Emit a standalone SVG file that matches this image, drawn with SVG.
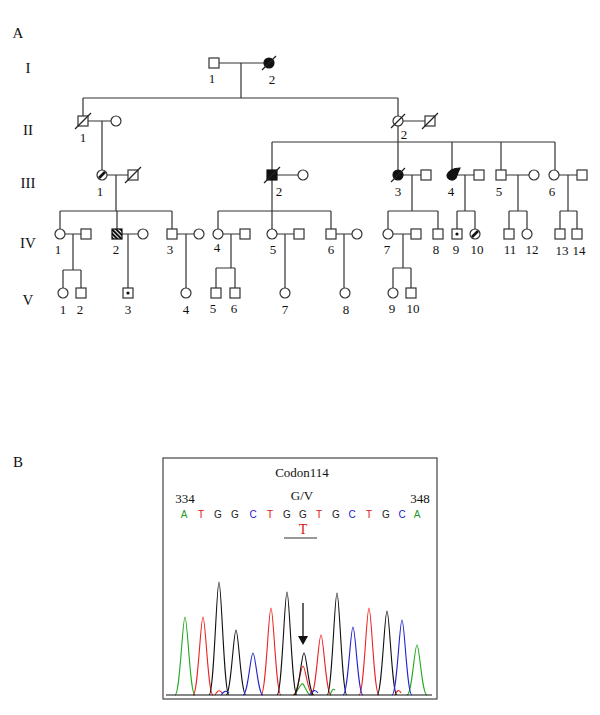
<svg xmlns="http://www.w3.org/2000/svg" width="600" height="715" viewBox="0 0 600 715">
<defs>
<style>
.ln{stroke:#333;stroke-width:1.2;fill:none}
.sym{stroke:#333;stroke-width:1.2;fill:#fff}
.aff{stroke:#111;stroke-width:1.2;fill:#111}
.sl{stroke:#222;stroke-width:1.2}
.hb{stroke:#111;stroke-width:2.6}
.t{font-family:"Liberation Serif","Times New Roman",serif;font-size:13px;fill:#111;text-anchor:middle}
.g{font-family:"Liberation Serif","Times New Roman",serif;font-size:15px;fill:#111;text-anchor:middle}
.s{font-family:"Liberation Sans",Arial,sans-serif;font-size:10px;text-anchor:middle}
.pk{fill:none;stroke-width:1.1}
</style>
<pattern id="hatch" width="3" height="3" patternUnits="userSpaceOnUse" patternTransform="rotate(-45)">
<rect width="3" height="3" fill="#fff"/><rect width="2" height="3" fill="#111"/>
</pattern>
</defs>
<rect width="600" height="715" fill="#fff"/>
<text x="18" y="38" class="g">A</text>
<g id="genlabels">
<text x="28" y="73" class="g">I</text>
<text x="28" y="135" class="g">II</text>
<text x="28" y="188" class="g">III</text>
<text x="28" y="248" class="g">IV</text>
<text x="28" y="305" class="g">V</text>
</g>
<g id="connectors">
<path class="ln" d="M219 63H264M241 63V98M83 98H398M83 98V116M398 98V116"/>
<path class="ln" d="M88 121H111M102 121V170M403 121H425M398 126V170M272 142H555M272 142V170M452 142V170M501 142V170M555 142V170"/>
<path class="ln" d="M107 175H128M116 175V211M60 211H172M60 211V229M117 211V229M172 211V229"/>
<path class="ln" d="M277 175H298M272 180V229M218 211H331M218 211V229M331 211V229"/>
<path class="ln" d="M403 175H421M412 175V211M388 211H438M388 211V229M438 211V229"/>
<path class="ln" d="M457 175H474M465 175V211M457 211H475M457 211V229M475 211V229"/>
<path class="ln" d="M506 175H529M518 175V211M509 211H527M509 211V229M527 211V229"/>
<path class="ln" d="M559 175H577M568 175V211M560 211H577M560 211V229M577 211V229"/>
<path class="ln" d="M65 234H81M73 234V270M63 270H81M63 270V288M81 270V288"/>
<path class="ln" d="M122 234H138M128 234V288"/>
<path class="ln" d="M177 234H194M186 234V288"/>
<path class="ln" d="M223 234H240M231 234V268M216 268H235M216 268V288M235 268V288"/>
<path class="ln" d="M277 234H294M285 234V288"/>
<path class="ln" d="M336 234H352M344 234V288"/>
<path class="ln" d="M393 234H411M403 234V268M393 268H411M393 268V288M411 268V288"/>
</g>
<g id="I-1"><rect class="sym" x="209" y="58" width="10" height="10"/><text x="212" y="83" class="t">1</text></g>
<g id="I-2"><circle class="aff" cx="269" cy="63" r="5"/><line class="sl" x1="262" y1="70" x2="276" y2="56"/><text x="272" y="84" class="t">2</text></g>
<g id="II-1"><rect class="sym" x="78" y="116" width="10" height="10"/><line class="sl" x1="75" y1="129" x2="91" y2="113"/><text x="83" y="142" class="t">1</text></g>
<g id="II-1w"><circle class="sym" cx="116" cy="121" r="5"/></g>
<g id="II-2"><circle class="sym" cx="398" cy="121" r="5"/><line class="sl" x1="391" y1="128" x2="405" y2="114"/><text x="404" y="139" class="t">2</text></g>
<g id="II-2h"><rect class="sym" x="425" y="116" width="10" height="10"/><line class="sl" x1="422" y1="129" x2="438" y2="113"/></g>
<g id="III-1"><circle class="sym" cx="102" cy="175" r="5"/><line class="hb" x1="99" y1="178" x2="105" y2="172"/><text x="100" y="196" class="t">1</text></g>
<g id="III-1h"><rect class="sym" x="128" y="170" width="10" height="10"/><line class="sl" x1="125" y1="183" x2="141" y2="167"/></g>
<g id="III-2"><rect class="aff" x="267" y="170" width="10" height="10"/><line class="sl" x1="264" y1="183" x2="280" y2="167"/><text x="279" y="196" class="t">2</text></g>
<g id="III-2w"><circle class="sym" cx="303" cy="175" r="5"/></g>
<g id="III-3"><circle class="aff" cx="398" cy="175" r="5"/><line class="sl" x1="391" y1="182" x2="405" y2="168"/><text x="398" y="196" class="t">3</text></g>
<g id="III-3h"><rect class="sym" x="421" y="170" width="10" height="10"/></g>
<g id="III-4"><path class="aff" d="M447 175A5 5 0 0 0 456 178Q458 172 460 168Q450 168 447 175Z"/><text x="451" y="196" class="t">4</text></g>
<g id="III-4h"><rect class="sym" x="474" y="170" width="10" height="10"/></g>
<g id="III-5"><rect class="sym" x="496" y="170" width="10" height="10"/><text x="499" y="196" class="t">5</text></g>
<g id="III-5w"><circle class="sym" cx="534" cy="175" r="5"/></g>
<g id="III-6"><circle class="sym" cx="554" cy="175" r="5"/><text x="552" y="196" class="t">6</text></g>
<g id="III-6h"><rect class="sym" x="577" y="170" width="10" height="10"/></g>
<g id="IV-1"><circle class="sym" cx="60" cy="234" r="5"/><text x="58" y="254" class="t">1</text></g>
<g id="IV-1h"><rect class="sym" x="81" y="229" width="10" height="10"/></g>
<g id="IV-2"><rect x="112" y="229" width="10" height="10" fill="url(#hatch)" stroke="#111" stroke-width="1.2"/><text x="116" y="254" class="t">2</text></g>
<g id="IV-2w"><circle class="sym" cx="143" cy="234" r="5"/></g>
<g id="IV-3"><rect class="sym" x="167" y="229" width="10" height="10"/><text x="170" y="254" class="t">3</text></g>
<g id="IV-3w"><circle class="sym" cx="199" cy="234" r="5"/></g>
<g id="IV-4"><circle class="sym" cx="218" cy="234" r="5"/><text x="217" y="252" class="t">4</text></g>
<g id="IV-4h"><rect class="sym" x="240" y="229" width="10" height="10"/></g>
<g id="IV-5"><circle class="sym" cx="272" cy="234" r="5"/><text x="273" y="254" class="t">5</text></g>
<g id="IV-5h"><rect class="sym" x="294" y="229" width="10" height="10"/></g>
<g id="IV-6"><rect class="sym" x="326" y="229" width="10" height="10"/><text x="331" y="254" class="t">6</text></g>
<g id="IV-6w"><circle class="sym" cx="357" cy="234" r="5"/></g>
<g id="IV-7"><circle class="sym" cx="388" cy="234" r="5"/><text x="387" y="254" class="t">7</text></g>
<g id="IV-7h"><rect class="sym" x="411" y="229" width="10" height="10"/></g>
<g id="IV-8"><rect class="sym" x="433" y="229" width="10" height="10"/><text x="436" y="254" class="t">8</text></g>
<g id="IV-9"><rect class="sym" x="452" y="229" width="10" height="10"/><circle cx="457" cy="234" r="1.6" fill="#111"/><text x="456" y="254" class="t">9</text></g>
<g id="IV-10"><circle class="sym" cx="475" cy="234" r="5"/><line class="hb" x1="472" y1="237" x2="478" y2="231"/><text x="477" y="254" class="t">10</text></g>
<g id="IV-11"><rect class="sym" x="504" y="229" width="10" height="10"/><text x="510" y="254" class="t">11</text></g>
<g id="IV-12"><circle class="sym" cx="527" cy="234" r="5"/><text x="532" y="254" class="t">12</text></g>
<g id="IV-13"><rect class="sym" x="555" y="229" width="10" height="10"/><text x="562" y="255" class="t">13</text></g>
<g id="IV-14"><rect class="sym" x="572" y="229" width="10" height="10"/><text x="579" y="255" class="t">14</text></g>
<g id="V-1"><circle class="sym" cx="63" cy="293" r="5"/><text x="63" y="314" class="t">1</text></g>
<g id="V-2"><rect class="sym" x="76" y="288" width="10" height="10"/><text x="80" y="314" class="t">2</text></g>
<g id="V-3"><rect class="sym" x="123" y="288" width="10" height="10"/><circle cx="128" cy="293" r="1.6" fill="#111"/><text x="128" y="314" class="t">3</text></g>
<g id="V-4"><circle class="sym" cx="186" cy="293" r="5"/><text x="186" y="314" class="t">4</text></g>
<g id="V-5"><rect class="sym" x="211" y="288" width="10" height="10"/><text x="213" y="313" class="t">5</text></g>
<g id="V-6"><rect class="sym" x="230" y="288" width="10" height="10"/><text x="234" y="313" class="t">6</text></g>
<g id="V-7"><circle class="sym" cx="285" cy="293" r="5"/><text x="285" y="314" class="t">7</text></g>
<g id="V-8"><circle class="sym" cx="345" cy="293" r="5"/><text x="346" y="314" class="t">8</text></g>
<g id="V-9"><circle class="sym" cx="393" cy="293" r="5"/><text x="392" y="313" class="t">9</text></g>
<g id="V-10"><rect class="sym" x="406" y="288" width="10" height="10"/><text x="413" y="313" class="t">10</text></g>
<text x="18" y="467" class="g">B</text>
<g id="chromatogram">
<rect x="163" y="458" width="274" height="241" fill="none" stroke="#444" stroke-width="1.2"/>
<text x="302" y="477" class="t">Codon114</text>
<text x="302" y="500" class="t">G/V</text>
<text x="185" y="503" class="t">334</text>
<text x="420" y="503" class="t">348</text>
<g class="s">
<text x="184" y="518" fill="#1a9a1a">A</text>
<text x="201" y="518" fill="#e01010">T</text>
<text x="218" y="518" fill="#222">G</text>
<text x="235" y="518" fill="#222">G</text>
<text x="253" y="518" fill="#2020d0">C</text>
<text x="270" y="518" fill="#e01010">T</text>
<text x="287" y="518" fill="#222">G</text>
<text x="303" y="518" fill="#222">G</text>
<text x="319" y="518" fill="#e01010">T</text>
<text x="336" y="518" fill="#222">G</text>
<text x="352" y="518" fill="#2020d0">C</text>
<text x="369" y="518" fill="#e01010">T</text>
<text x="386" y="518" fill="#222">G</text>
<text x="402" y="518" fill="#2020d0">C</text>
<text x="417" y="518" fill="#1a9a1a">A</text>
</g>
<text x="303" y="534" style="font-family:'Liberation Serif',serif;font-size:14px;fill:#e01010;text-anchor:middle">T</text>
<line x1="284" y1="538" x2="317" y2="538" stroke="#333" stroke-width="1.2"/>
<path class="pk" stroke="#2a2" d="M175 695C180 695 182.5 617 185 617C187.5 617 190 695 195 695M407 695C412 695 414.5 645 417 645C419.5 645 422 695 427 695M294 695C299 690 301 682 303 684C305 686 306 692 310 695M330 695C332 690 333 688 335 690"/>
<path class="pk" stroke="#e22" d="M193 695C198 695 200.5 617 203 617C205.5 617 208 695 213 695M261 695C266 695 268.5 608 271 608C273.5 608 276 695 281 695M293 695C298 695 300.5 666 303 666C305.5 666 308 695 313 695M311 695C316 695 318.5 635 321 635C323.5 635 326 695 331 695M359 695C364 695 366.5 608 369 608C371.5 608 374 695 379 695M395 695C397 690 399 689 401 693M215 695C218 690 220 689 223 694"/>
<path class="pk" stroke="#111" d="M209 695C214 695 216.5 582 219 582C221.5 582 224 695 229 695M226 695C231 695 233.5 630 236 630C238.5 630 241 695 246 695M277 695C282 695 284.5 592 287 592C289.5 592 292 695 297 695M294 695C299 695 301.5 653 304 653C306.5 653 309 695 314 695M327 695C332 695 334.5 593 337 593C339.5 593 342 695 347 695M377 695C382 695 384.5 611 387 611C389.5 611 392 695 397 695M166 695H432"/>
<path class="pk" stroke="#22c" d="M243 695C248 695 250.5 653 253 653C255.5 653 258 695 263 695M343 695C348 695 350.5 627 353 627C355.5 627 358 695 363 695M392 695C397 695 399.5 620 402 620C404.5 620 407 695 412 695M310 695C313 690 315 689 318 693M221 695C224 691 226 690 229 693"/>
<line x1="303" y1="603" x2="303" y2="637" stroke="#111" stroke-width="1.3"/>
<polygon points="298,636 308,636 303,645" fill="#111"/>
</g>
</svg>
